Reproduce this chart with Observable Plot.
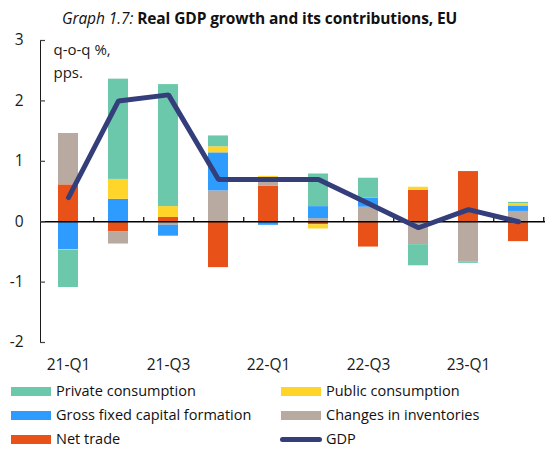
<!DOCTYPE html>
<html><head><meta charset="utf-8">
<script src="https://cdn.jsdelivr.net/npm/d3@7"></script>
<script src="https://cdn.jsdelivr.net/npm/@observablehq/plot@0.6"></script>
<style>
body{margin:0;background:#fff;font-family:"Open Sans",sans-serif;color:#111}
#title{height:22px;box-sizing:border-box;padding-left:62px;padding-top:10px;font-size:15.5px;line-height:18px;white-space:nowrap;letter-spacing:-0.1px;position:relative;z-index:1}
#title span{position:relative;top:-1px}
#legend{position:relative;height:70px}
.item{position:absolute;font-size:14.5px;line-height:18px;display:flex;align-items:center;white-space:nowrap}
.sw{width:40px;height:9px;margin-right:5px}
.ln{width:42px;height:5px;border-radius:3px;margin-right:4px}
svg{overflow:visible}
</style></head><body>
<div id="title"><span><i>Graph 1.7:</i> <b>Real GDP growth and its contributions, EU</b></span></div>
<div id="chart"></div>
<div id="legend"></div>
<script>
const quarters = ["21-Q1","21-Q2","21-Q3","21-Q4","22-Q1","22-Q2","22-Q3","22-Q4","23-Q1","23-Q2"];
const xTickLabels = ["21-Q1","21-Q3","22-Q1","22-Q3","23-Q1"];
const yTicks = [-2, -1, 0, 1, 2, 3];
const seriesNames = ["Private consumption","Public consumption","Gross fixed capital formation","Changes in inventories","Net trade"];
const seriesColors = ["#6cc8aa","#ffd52a","#2e9bff","#b8a9a1","#e85117"];
const privateConsumption = [-0.62, 1.66, 2.02, 0.18, 0.00, 0.54, 0.33, -0.35, -0.02, 0.02];
const publicConsumption  = [-0.01, 0.33, 0.18, 0.10, 0.03, -0.07, 0.00, 0.05, 0.00, 0.04];
const gfcf               = [-0.46, 0.37, -0.18, 0.63, -0.06, 0.20, 0.15, 0.00, 0.00, 0.09];
const inventories        = [0.85, -0.20, -0.06, 0.51, 0.13, 0.05, 0.24, -0.38, -0.67, 0.17];
const netTrade           = [0.61, -0.17, 0.07, -0.76, 0.59, -0.05, -0.42, 0.52, 0.83, -0.33];
const gdp                = [0.4, 2.0, 2.1, 0.7, 0.7, 0.7, 0.3, -0.1, 0.2, 0.0];
const gdpColor = "#343e7a";

const seriesValues = [privateConsumption, publicConsumption, gfcf, inventories, netTrade];
// stack order outward from zero: net trade, inventories, GFCF, public, private
const stackOrder = [4, 3, 2, 1, 0];
const rows = [];
for (const s of stackOrder) quarters.forEach((q, i) => rows.push({q, s: seriesNames[s], v: seriesValues[s][i]}));
const gdpRows = quarters.map((q, i) => ({q, v: gdp[i]}));

const W = 545, H = 358, mL = 40, mR = 0, mT = 18, mB = 38;
const step = (W - mL - mR) / quarters.length;

const chart = Plot.plot({
  width: W, height: H, marginLeft: mL, marginRight: mR, marginTop: mT, marginBottom: mB,
  style: {fontFamily: "'Open Sans', sans-serif", fontSize: "15.5px", color: "#1a1a1a", background: "transparent", overflow: "visible"},
  x: {type: "band", domain: quarters, paddingInner: 0.6, paddingOuter: 0.3, ticks: xTickLabels, tickSize: 0, tickPadding: 16, label: null},
  y: {domain: [-2, 3], ticks: yTicks, tickFormat: d => String(d), tickSize: 0, tickPadding: 17, line: true, label: null},
  color: {domain: seriesNames, range: seriesColors},
  marks: [
    Plot.barY(rows, Plot.stackY({x: "q", y: "v", z: "s", fill: "s", order: null})),
    Plot.ruleY([0], {stroke: "#000", strokeWidth: 1.5}),
    Plot.ruleX(quarters, {x: d => d, y1: 0, y2: 0.07, dx: step / 2, stroke: "#000", strokeWidth: 1.2}),
    Plot.tickY(yTicks, {y: d => d, insetRight: W - mL - mR - 5, stroke: "#444", strokeWidth: 1.2}),
    Plot.line(gdpRows, {x: "q", y: "v", stroke: gdpColor, strokeWidth: 5, strokeLinecap: "round", strokeLinejoin: "miter"}),
    Plot.text(["q-o-q %,\npps."], {frameAnchor: "top-left", dx: 13, dy: -1, textAnchor: "start", lineHeight: 1.5, fontSize: 15, fill: "#1a1a1a"})
  ]
});
document.getElementById("chart").appendChild(chart);

const legend = document.getElementById("legend");
const legendItems = [
  {name: seriesNames[0], color: seriesColors[0], left: 11, top: 2},
  {name: seriesNames[1], color: seriesColors[1], left: 281, top: 2},
  {name: seriesNames[2], color: seriesColors[2], left: 11, top: 26},
  {name: seriesNames[3], color: seriesColors[3], left: 281, top: 26},
  {name: seriesNames[4], color: seriesColors[4], left: 11, top: 50},
  {name: "GDP", color: gdpColor, left: 280, top: 50, line: true}
];
for (const it of legendItems) {
  const d = document.createElement("div");
  d.className = "item";
  d.style.left = it.left + "px"; d.style.top = it.top + "px";
  const sw = document.createElement("span");
  sw.className = it.line ? "ln" : "sw";
  sw.style.background = it.color;
  d.appendChild(sw);
  d.appendChild(document.createTextNode(it.name));
  legend.appendChild(d);
}
</script>
</body></html>
